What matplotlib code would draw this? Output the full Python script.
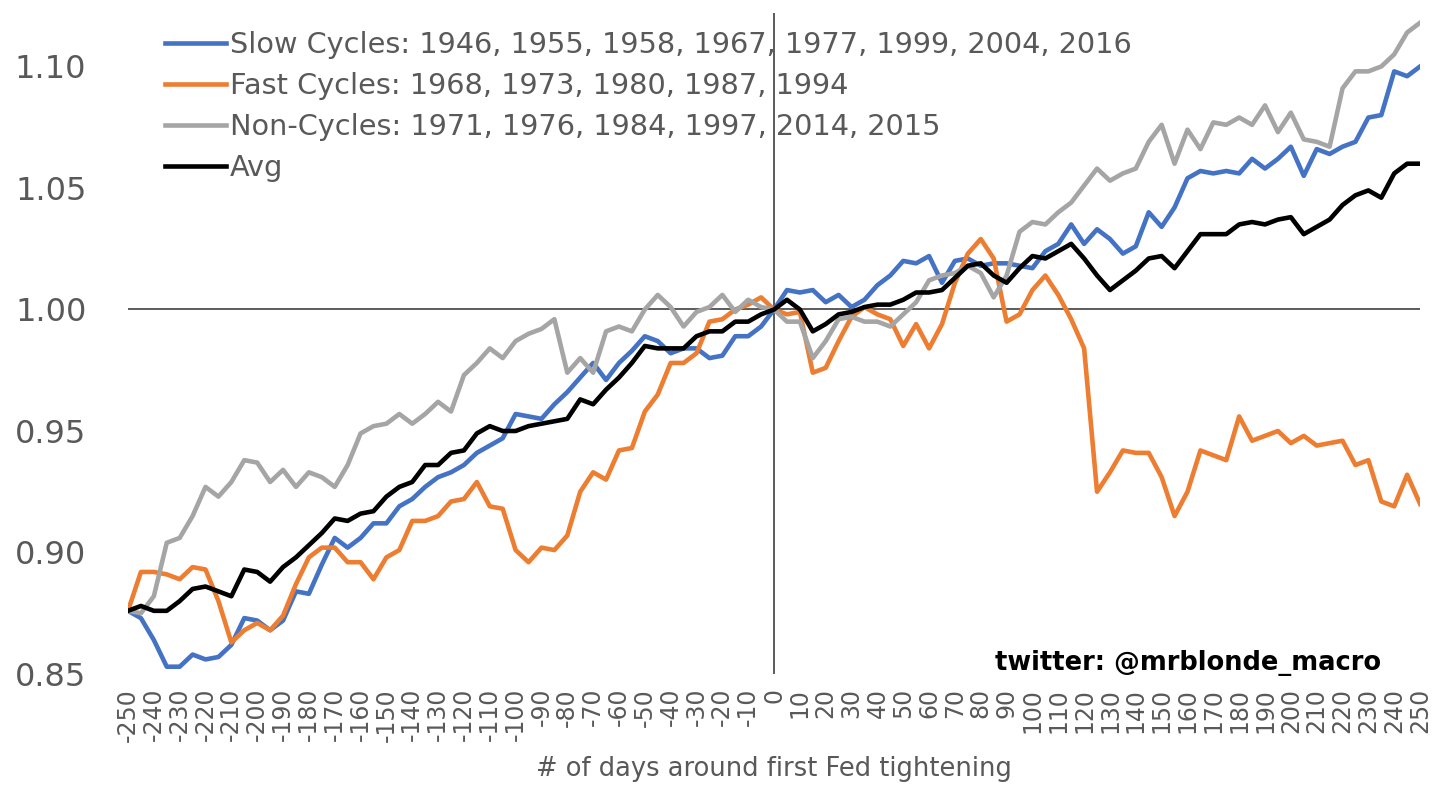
import matplotlib.pyplot as plt
import numpy as np

# days around first Fed tightening, one value every 5 days
days = np.arange(-250, 251, 5)

slow = [0.876, 0.873, 0.864, 0.853, 0.853, 0.858, 0.856, 0.857, 0.862, 0.873,
        0.872, 0.868, 0.872, 0.884, 0.883, 0.895, 0.906, 0.902, 0.906, 0.912,
        0.912, 0.919, 0.922, 0.927, 0.931, 0.933, 0.936, 0.941, 0.944, 0.947,
        0.957, 0.956, 0.955, 0.961, 0.966, 0.972, 0.978, 0.971, 0.978, 0.983,
        0.989, 0.987, 0.982, 0.984, 0.984, 0.980, 0.981, 0.989, 0.989, 0.993,
        1.000,
        1.008, 1.007, 1.008, 1.003, 1.006, 1.001, 1.004, 1.010, 1.014, 1.020,
        1.019, 1.022, 1.011, 1.020, 1.021, 1.018, 1.019, 1.019, 1.018, 1.017,
        1.024, 1.027, 1.035, 1.027, 1.033, 1.029, 1.023, 1.026, 1.040, 1.034,
        1.042, 1.054, 1.057, 1.056, 1.057, 1.056, 1.062, 1.058, 1.062, 1.067,
        1.055, 1.066, 1.064, 1.067, 1.069, 1.079, 1.080, 1.098, 1.096, 1.100]

fast = [0.876, 0.892, 0.892, 0.891, 0.889, 0.894, 0.893, 0.880, 0.863, 0.868,
        0.871, 0.868, 0.874, 0.887, 0.898, 0.902, 0.902, 0.896, 0.896, 0.889,
        0.898, 0.901, 0.913, 0.913, 0.915, 0.921, 0.922, 0.929, 0.919, 0.918,
        0.901, 0.896, 0.902, 0.901, 0.907, 0.925, 0.933, 0.930, 0.942, 0.943,
        0.958, 0.965, 0.978, 0.978, 0.982, 0.995, 0.996, 1.000, 1.002, 1.005,
        1.000,
        0.998, 0.999, 0.974, 0.976, 0.987, 0.997, 1.001, 0.998, 0.996, 0.985,
        0.994, 0.984, 0.994, 1.011, 1.023, 1.029, 1.021, 0.995, 0.998, 1.008,
        1.014, 1.006, 0.996, 0.984, 0.925, 0.933, 0.942, 0.941, 0.941, 0.931,
        0.915, 0.925, 0.942, 0.940, 0.938, 0.956, 0.946, 0.948, 0.950, 0.945,
        0.948, 0.944, 0.945, 0.946, 0.936, 0.938, 0.921, 0.919, 0.932, 0.920]

non = [0.876, 0.875, 0.882, 0.904, 0.906, 0.915, 0.927, 0.923, 0.929, 0.938,
       0.937, 0.929, 0.934, 0.927, 0.933, 0.931, 0.927, 0.936, 0.949, 0.952,
       0.953, 0.957, 0.953, 0.957, 0.962, 0.958, 0.973, 0.978, 0.984, 0.980,
       0.987, 0.990, 0.992, 0.996, 0.974, 0.980, 0.974, 0.991, 0.993, 0.991,
       1.000, 1.006, 1.001, 0.993, 0.999, 1.001, 1.006, 0.999, 1.004, 1.001,
       1.000,
       0.995, 0.995, 0.980, 0.987, 0.996, 0.997, 0.995, 0.995, 0.993, 0.998,
       1.003, 1.012, 1.014, 1.015, 1.018, 1.015, 1.005, 1.014, 1.032, 1.036,
       1.035, 1.040, 1.044, 1.051, 1.058, 1.053, 1.056, 1.058, 1.069, 1.076,
       1.060, 1.074, 1.066, 1.077, 1.076, 1.079, 1.076, 1.084, 1.073, 1.081,
       1.070, 1.069, 1.067, 1.091, 1.098, 1.098, 1.100, 1.105, 1.114, 1.118]

avg = [0.876, 0.878, 0.876, 0.876, 0.880, 0.885, 0.886, 0.884, 0.882, 0.893,
       0.892, 0.888, 0.894, 0.898, 0.903, 0.908, 0.914, 0.913, 0.916, 0.917,
       0.923, 0.927, 0.929, 0.936, 0.936, 0.941, 0.942, 0.949, 0.952, 0.950,
       0.950, 0.952, 0.953, 0.954, 0.955, 0.963, 0.961, 0.967, 0.972, 0.978,
       0.985, 0.984, 0.984, 0.984, 0.989, 0.991, 0.991, 0.995, 0.995, 0.998,
       1.000,
       1.004, 1.000, 0.991, 0.994, 0.998, 0.999, 1.001, 1.002, 1.002, 1.004,
       1.007, 1.007, 1.008, 1.013, 1.018, 1.019, 1.014, 1.011, 1.017, 1.022,
       1.021, 1.024, 1.027, 1.021, 1.014, 1.008, 1.012, 1.016, 1.021, 1.022,
       1.017, 1.024, 1.031, 1.031, 1.031, 1.035, 1.036, 1.035, 1.037, 1.038,
       1.031, 1.034, 1.037, 1.043, 1.047, 1.049, 1.046, 1.056, 1.060, 1.060]

labels = ["Slow Cycles: 1946, 1955, 1958, 1967, 1977, 1999, 2004, 2016",
          "Fast Cycles: 1968, 1973, 1980, 1987, 1994",
          "Non-Cycles: 1971, 1976, 1984, 1997, 2014, 2015",
          "Avg"]
colors = ["#4472C4", "#ED7D31", "#A5A5A5", "#000000"]

xticks = np.arange(-250, 251, 10)
yticks = [0.85, 0.90, 0.95, 1.00, 1.05, 1.10]

txt = "#595959"

fig = plt.figure(figsize=(14.43, 7.85), dpi=100)
ax = fig.add_axes([0.0887, 0.1414, 0.8954, 0.842])

for s, lab, c in zip([slow, fast, non, avg], labels, colors):
    ax.plot(days, s, color=c, lw=3.3, label=lab, solid_joinstyle="round")

ax.axhline(1.0, color="#404040", lw=1.2, zorder=0)
ax.axvline(0, color="#404040", lw=1.2, zorder=0)

ax.set_xlim(-250, 250)
ax.set_ylim(0.85, 1.122)
ax.set_yticks(yticks)
ax.set_yticklabels(["%.2f" % v for v in yticks], fontsize=23, color=txt)
ax.set_xticks(xticks)
ax.set_xticklabels([str(v) for v in xticks], rotation=90, fontsize=17,
                   color=txt, va="top", ha="center")
ax.tick_params(axis="y", length=0, pad=30)
ax.tick_params(axis="x", length=0, pad=10)
for sp in ax.spines.values():
    sp.set_visible(False)

ax.set_xlabel("# of days around first Fed tightening", fontsize=18.5,
              color=txt, labelpad=10)

leg = ax.legend(loc="upper left", bbox_to_anchor=(0.02, 0.99), frameon=False,
                fontsize=20.7, handlelength=2.1, handletextpad=0.15,
                labelspacing=0.45, borderaxespad=0)
for t in leg.get_texts():
    t.set_color(txt)

fig.text(0.957, 0.155, "twitter: @mrblonde_macro", fontsize=18.5,
         fontweight="bold", ha="right", va="center", color="black")

fig.savefig("out.png", dpi=100)
